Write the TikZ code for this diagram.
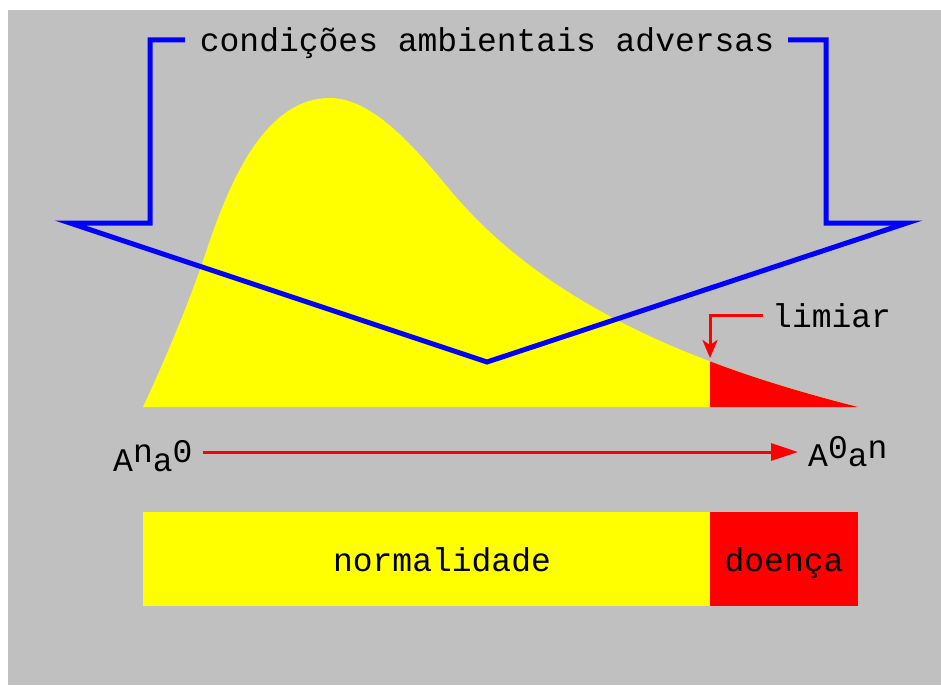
\documentclass[tikz,border=0pt]{standalone}
\usepackage{fontspec}
\setmonofont{Liberation Mono}
\usetikzlibrary{arrows.meta,positioning}
\definecolor{bggray}{RGB}{192,192,192}
\definecolor{pureblue}{RGB}{0,0,255}
\definecolor{purered}{RGB}{255,0,0}
\definecolor{pureyellow}{RGB}{255,255,0}

\begin{document}
\begin{tikzpicture}[x=1pt, y=-1pt,
    lbl/.style={font=\ttfamily\fontsize{33}{36}\selectfont, inner sep=0pt},
    bar/.style={anchor=north west, inner sep=0pt, minimum height=94pt},
    blueline/.style={draw=pureblue, line width=5pt, line join=miter},
    arr/.style={-{Triangle[length=27pt,width=17pt]}, draw=purered, line width=3pt},
    tip/.style={-{Stealth[length=18pt,width=15pt,inset=5pt]}, draw=purered, line width=3pt}
  ]
    \useasboundingbox (0,0) rectangle (941,685);
    \fill[white] (0,0) rectangle (941,685);
    \fill[bggray] (8,10) rectangle (941,685);

    % curva de distribuicao, cauda acima do limiar em vermelho
    \fill[pureyellow, path picture={\fill[purered] (710,0) rectangle (941,685);}]
      (143,407) .. controls (165,360) and (190,300) .. (205,255)
      .. controls (225,195) and (260,98) .. (330,98)
      .. controls (375,98) and (420,154) .. (450,190)
      .. controls (550,310) and (708,369) .. (858,407) -- cycle;

    % seta das condicoes adversas
    \draw[blueline] (185,40) -- (150,40) -- (150,223) -- (70,223) -- (487,362)
      -- (907,223) -- (826,223) -- (826,40) -- (788,40);
    \node[lbl, anchor=base] (title) at (487,52) {condições ambientais adversas};

    % limiar
    \node[lbl, anchor=base west] (limiar) at (772,327) {limiar};
    \coordinate (limtip) at (710,358);
    \draw[tip] ([xshift=-9pt]limiar.west) -| (limtip);

    % eixo dos genotipos
    \coordinate (arrline) at (0,452);
    \node[lbl, anchor=base west] (aleft) at (113,471) {A\raisebox{9pt}{n}a\raisebox{9pt}{0}};
    \node[lbl, anchor=base west] (aright) at (808,466) {A\raisebox{8pt}{0}a\raisebox{8pt}{n}};
    \draw[arr, shorten <=10pt, shorten >=10pt] (aleft.east |- arrline) -- (aright.west |- arrline);

    % barra normalidade / doenca
    \node[bar, fill=pureyellow, minimum width=567pt] (normal) at (143,512) {};
    \node[bar, fill=purered, minimum width=148pt] (doenca) at (710,512) {};
    \node[lbl, anchor=base] (normaltxt) at (442,571) {normalidade};
    \node[lbl, anchor=base] (doencatxt) at (784,571) {doença};
  \end{tikzpicture}
\end{document}
